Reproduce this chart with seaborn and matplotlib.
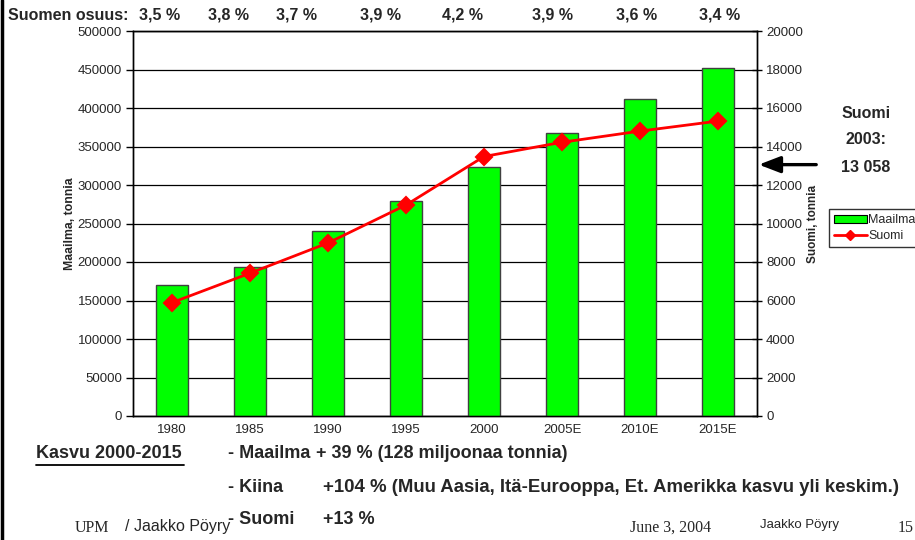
import numpy as np
import pandas as pd
import matplotlib
matplotlib.use('Agg')
import matplotlib.pyplot as plt
import seaborn as sns
from matplotlib.patches import Patch
from matplotlib.lines import Line2D

# Data
years = ['1980', '1985', '1990', '1995', '2000', '2005E', '2010E', '2015E']
maailma = [170000, 194000, 240000, 279000, 324000, 368000, 411500, 452500]
suomi = [5890, 7420, 8990, 10960, 13480, 14220, 14800, 15320]
osuus = ['3,5 %', '3,8 %', '3,7 %', '3,9 %', '4,2 %', '3,9 %', '3,6 %', '3,4 %']
suomi_2003 = 13058

df = pd.DataFrame({'vuosi': years, 'Maailma': maailma, 'Suomi': suomi})

sns.set_style('white')
plt.rcParams['font.family'] = ['Liberation Sans', 'DejaVu Sans']

W, H = 915, 540
fig = plt.figure(figsize=(W / 100, H / 100), dpi=100)
ax = fig.add_axes([133 / W, 1 - 416 / H, (757 - 133) / W, (416 - 31) / H])

def fx(x):
    return x / W

def fy(y):
    return 1 - y / H

# palkit (maailma)
sns.barplot(data=df, x='vuosi', y='Maailma', color='#00ff00', width=0.405,
            saturation=1, edgecolor='#404040', linewidth=1, ax=ax, zorder=3)
ax.set_ylim(0, 500000)
ax.set_yticks(np.arange(0, 500001, 50000))
ax.yaxis.grid(True, color='black', linewidth=0.9, zorder=0)
ax.set_axisbelow(True)
ax.set_xlim(-0.5, len(years) - 0.5)
ax.set_xticks(range(len(years)))
ax.set_xticklabels(years)
ax.tick_params(axis='x', length=0, labelsize=9.5, pad=6)
ax.set_xticks(np.arange(-0.5, len(years), 1), minor=True)
ax.tick_params(axis='x', which='minor', length=7, direction='inout', color='black', width=1)
ax.tick_params(axis='y', length=5, direction='out', labelsize=9.5, width=1, color='black',
               left=True, pad=3)
ax.set_xlabel('')
ax.set_ylabel('Maailma, tonnia', fontsize=8.8, fontweight='bold', labelpad=1)
for s in ax.spines.values():
    s.set_color('black')
    s.set_linewidth(1)

# viiva (Suomi)
ax2 = ax.twinx()
sns.pointplot(data=df, x='vuosi', y='Suomi', color='red', markers='D',
              linestyles='-', errorbar=None, ax=ax2, markersize=8, linewidth=2)
ax2.set_ylim(0, 20000)
ax2.set_yticks(np.arange(0, 20001, 2000))
ax2.set_xlim(-0.5, len(years) - 0.5)
ax2.tick_params(axis='y', length=7, direction='inout', labelsize=9.5, width=1, color='black',
                right=True, pad=3)
ax2.set_ylabel('Suomi, tonnia', fontsize=8.5, fontweight='bold', labelpad=3)
ax2.set_xlabel('')
for s in ax2.spines.values():
    s.set_color('black')
    s.set_linewidth(1)

# nuoli Suomi 2003
ax2.annotate('', xy=(756 / W, suomi_2003), xycoords=('figure fraction', 'data'),
             xytext=(819 / W, suomi_2003), textcoords=('figure fraction', 'data'),
             arrowprops=dict(arrowstyle='-|>,head_length=1.3,head_width=0.5',
                             color='black', lw=2.4), annotation_clip=False)
fig.text(fx(866), fy(113), 'Suomi', ha='center', va='center', fontsize=11.5, fontweight='bold')
fig.text(fx(866), fy(139), '2003:', ha='center', va='center', fontsize=11.5, fontweight='bold')
fig.text(fx(866), fy(168), '13 058', ha='center', va='center', fontsize=11.5, fontweight='bold')

# selite
handles = [Patch(facecolor='#00ff00', edgecolor='black', linewidth=0.8),
           Line2D([], [], color='red', marker='D', markersize=5, linewidth=2)]
fig.legend(handles, ['Maailma', 'Suomi'], loc='upper left',
           bbox_to_anchor=(fx(829), fy(209)), fontsize=9, frameon=True,
           fancybox=False, edgecolor='black', handlelength=2.6, handleheight=0.6,
           borderpad=0.4, labelspacing=0.3, handletextpad=0.15, borderaxespad=0)

# Suomen osuus
fig.text(fx(8), fy(15), 'Suomen osuus:', ha='left', va='center', fontsize=11.5, fontweight='bold')
osuus_x = [160, 229, 297, 380, 463, 553, 637, 720]
for xp, t in zip(osuus_x, osuus):
    fig.text(fx(xp), fy(15), t, ha='center', va='center', fontsize=11.5, fontweight='bold')

# Kasvu-teksti
fig.text(fx(36), fy(454), 'Kasvu 2000-2015', ha='left', va='center', fontsize=13,
         fontweight='bold')
fig.add_artist(Line2D([fx(36), fx(184)], [fy(465), fy(465)], color='black', lw=1.3))
fig.text(fx(228), fy(454), '- Maailma', ha='left', va='center', fontsize=13, fontweight='bold')
fig.text(fx(316), fy(454), '+ 39 % (128 miljoonaa tonnia)', ha='left', va='center',
         fontsize=13, fontweight='bold')
fig.text(fx(228), fy(488), '- Kiina', ha='left', va='center', fontsize=13, fontweight='bold')
fig.text(fx(323), fy(488), '+104 % (Muu Aasia, Itä-Eurooppa, Et. Amerikka kasvu yli keskim.)',
         ha='left', va='center', fontsize=13.4, fontweight='bold')
fig.text(fx(228), fy(520), '- Suomi', ha='left', va='center', fontsize=13, fontweight='bold')
fig.text(fx(323), fy(520), '+13 %', ha='left', va='center', fontsize=13, fontweight='bold')

# alatunniste
fig.text(fx(75), fy(528), 'UPM', ha='left', va='center', fontsize=11.5, family='Liberation Serif')
fig.text(fx(125), fy(527), '/ Jaakko Pöyry', ha='left', va='center', fontsize=11.5)
fig.text(fx(630), fy(528), 'June 3, 2004', ha='left', va='center', fontsize=11.5,
         family='Liberation Serif')
fig.text(fx(760), fy(525), 'Jaakko Pöyry', ha='left', va='center', fontsize=9.5)
fig.text(fx(898), fy(528), '15', ha='left', va='center', fontsize=11.5, family='Liberation Serif')

# vasen reunaviiva
fig.add_artist(Line2D([0.002, 0.002], [0, 1], color='black', lw=2.5))

fig.savefig('out.png', dpi=100)
